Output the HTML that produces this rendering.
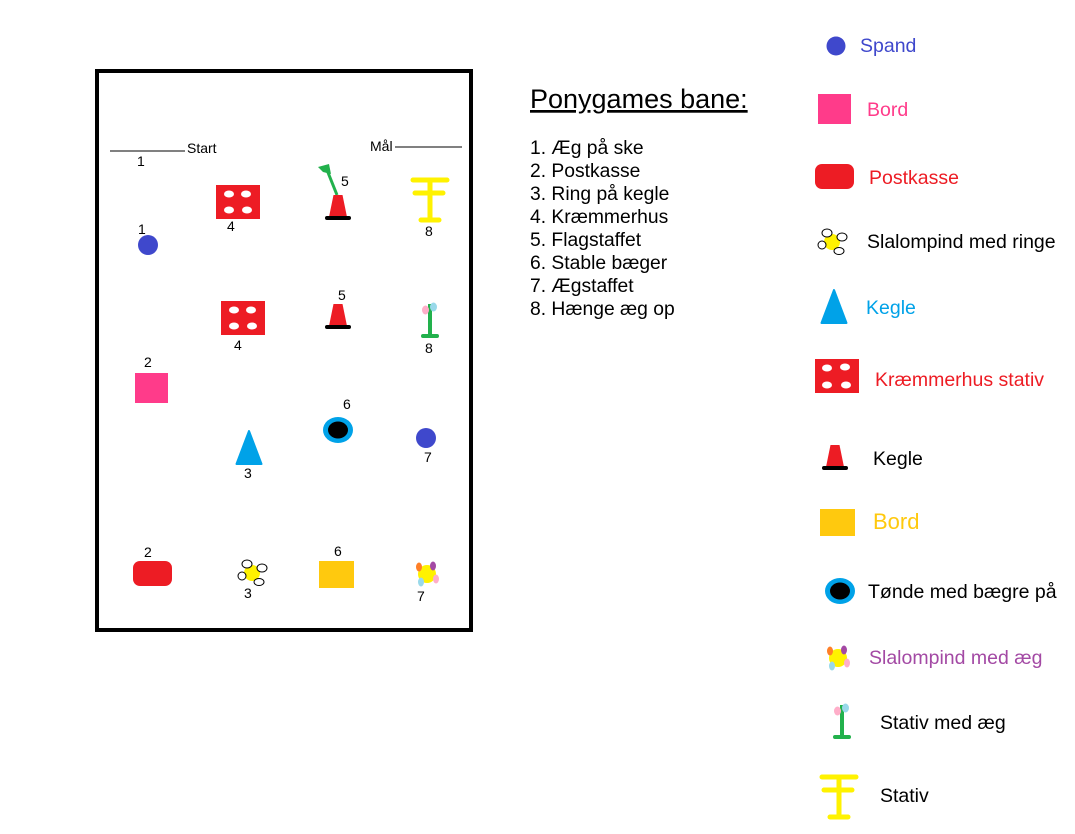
<!DOCTYPE html>
<html><head><meta charset="utf-8"><style>
html,body{margin:0;padding:0;background:#fff;}
svg{display:block;font-family:"Liberation Sans",Arial,sans-serif;}
</style></head><body>
<svg width="1075" height="834" viewBox="0 0 1075 834" xmlns="http://www.w3.org/2000/svg">
<defs>
<g id="spand"><circle r="10" fill="#3f48cc"/></g>
<g id="pink"><rect x="-16.5" y="-15" width="33" height="30" fill="#ff3b8a"/></g>
<g id="post"><rect x="-19.5" y="-12.5" width="39" height="25" rx="7" fill="#ed1c24"/></g>
<g id="ringe"><circle r="8" fill="#fff200"/>
<ellipse cx="-5" cy="-9" rx="5" ry="4" fill="#fff" stroke="#000" stroke-width="1"/>
<ellipse cx="10" cy="-5" rx="5" ry="4" fill="#fff" stroke="#000" stroke-width="1"/>
<ellipse cx="-10" cy="3" rx="4" ry="4" fill="#fff" stroke="#000" stroke-width="1"/>
<ellipse cx="7" cy="9" rx="5" ry="3.5" fill="#fff" stroke="#000" stroke-width="1"/></g>
<g id="bluecone"><polygon points="0,0 12.5,33 -12.5,33" fill="#00a2e8" stroke="#00a2e8" stroke-width="2" stroke-linejoin="round"/></g>
<g id="krm"><rect x="-22" y="-17" width="44" height="34" fill="#ed1c24"/>
<ellipse cx="-9" cy="-8" rx="5" ry="3.5" fill="#fff"/><ellipse cx="8" cy="-8" rx="5" ry="3.5" fill="#fff"/>
<ellipse cx="-9" cy="8" rx="5" ry="3.5" fill="#fff"/><ellipse cx="9" cy="8" rx="5" ry="3.5" fill="#fff"/></g>
<g id="redcone"><polygon points="-4.5,-12 4.5,-12 9,10 -9,10" fill="#ed1c24"/><line x1="-11" y1="11" x2="11" y2="11" stroke="#000" stroke-width="4" stroke-linecap="round"/></g>
<g id="ybord"><rect x="-17.5" y="-13.5" width="35" height="27" fill="#ffc90e"/></g>
<g id="tonde"><ellipse rx="15" ry="13" fill="#00a2e8"/><ellipse rx="10" ry="8.5" fill="#000"/></g>
<g id="aeg"><circle cx="2" cy="1" r="9" fill="#fff200"/>
<ellipse cx="-6" cy="-6" rx="3" ry="4.5" fill="#ff7f27"/><ellipse cx="8" cy="-7" rx="3" ry="4.5" fill="#a349a4"/>
<ellipse cx="-4" cy="9" rx="3" ry="4.5" fill="#99d9ea"/><ellipse cx="11" cy="6" rx="3" ry="4.5" fill="#ffaec9"/></g>
<g id="stavaeg"><line x1="0" y1="-16" x2="0" y2="16" stroke="#22b14c" stroke-width="4"/>
<line x1="-7" y1="16" x2="7" y2="16" stroke="#22b14c" stroke-width="4" stroke-linecap="round"/>
<ellipse cx="-4.5" cy="-10" rx="3.5" ry="4.5" fill="#ffaec9"/><ellipse cx="3.5" cy="-13" rx="3.5" ry="4.5" fill="#99d9ea"/></g>
<g id="stativ" stroke="#fff200" stroke-width="5" stroke-linecap="round"><line x1="-17" y1="-20" x2="17" y2="-20"/>
<line x1="-15" y1="-7" x2="13" y2="-7"/><line x1="0" y1="-20" x2="0" y2="20"/><line x1="-9" y1="20" x2="9" y2="20"/></g>
</defs>

<rect x="97" y="71" width="374" height="559" fill="none" stroke="#000" stroke-width="4"/>
<g font-size="14" fill="#000">
<line x1="110" y1="151" x2="185" y2="151" stroke="#000" stroke-width="1"/>
<text x="187" y="153">Start</text>
<text x="370" y="151">Mål</text>
<line x1="395" y1="147" x2="462" y2="147" stroke="#000" stroke-width="1"/>
<text x="137" y="166">1</text>
<text x="138" y="234">1</text>
<text x="227" y="231">4</text>
<text x="341" y="186">5</text>
<text x="425" y="236">8</text>
<text x="234" y="350">4</text>
<text x="338" y="300">5</text>
<text x="425" y="353">8</text>
<text x="144" y="367">2</text>
<text x="343" y="409">6</text>
<text x="244" y="478">3</text>
<text x="424" y="462">7</text>
<text x="144" y="557">2</text>
<text x="334" y="556">6</text>
<text x="244" y="598">3</text>
<text x="417" y="601">7</text>
</g>
<use href="#spand" x="148" y="245"/>
<use href="#krm" x="238" y="202"/>
<line x1="337" y1="195" x2="327" y2="170" stroke="#22b14c" stroke-width="3"/>
<polygon points="318,167 329,164 331,174 323,172" fill="#22b14c"/>
<use href="#redcone" x="338" y="207"/>
<use href="#stativ" x="430" y="200"/>
<use href="#krm" x="243" y="318"/>
<use href="#redcone" x="338" y="316"/>
<use href="#stavaeg" x="430" y="320"/>
<use href="#pink" x="151.5" y="388"/>
<use href="#tonde" x="338" y="430"/>
<use href="#spand" x="426" y="438"/>
<use href="#bluecone" x="249" y="431"/>
<use href="#post" x="152.5" y="573.5"/>
<use href="#ringe" x="252" y="573"/>
<use href="#ybord" x="336.5" y="574.5"/>
<use href="#aeg" x="425" y="573"/>

<text x="530" y="108" font-size="27" text-decoration="underline">Ponygames bane:</text>
<g font-size="19.3" fill="#000">
<text x="530" y="154">1. Æg på ske</text>
<text x="530" y="177">2. Postkasse</text>
<text x="530" y="200">3. Ring på kegle</text>
<text x="530" y="223">4. Kræmmerhus</text>
<text x="530" y="246">5. Flagstaffet</text>
<text x="530" y="269">6. Stable bæger</text>
<text x="530" y="292">7. Ægstaffet</text>
<text x="530" y="315">8. Hænge æg op</text>
</g>

<circle cx="836" cy="46" r="9.5" fill="#3f48cc"/>
<use href="#pink" x="834.5" y="109"/>
<use href="#post" x="834.5" y="176.5"/>
<use href="#ringe" x="832" y="242"/>
<use href="#bluecone" x="834" y="290"/>
<rect x="815" y="359" width="44" height="34" fill="#ed1c24"/>
<ellipse cx="827" cy="368" rx="5" ry="3.5" fill="#fff"/><ellipse cx="845" cy="367" rx="5" ry="3.5" fill="#fff"/>
<ellipse cx="827" cy="385" rx="5" ry="3.5" fill="#fff"/><ellipse cx="846" cy="385" rx="5" ry="3.5" fill="#fff"/>
<use href="#redcone" x="835" y="457"/>
<use href="#ybord" x="837.5" y="522.5"/>
<use href="#tonde" x="840" y="591"/>
<use href="#aeg" x="836" y="657"/>
<use href="#stavaeg" x="842" y="721"/>
<use href="#stativ" x="839" y="797"/>
<g font-size="19.5">
<text x="860" y="52" fill="#3f48cc">Spand</text>
<text x="867" y="116" fill="#ff3b8a">Bord</text>
<text x="869" y="184" fill="#ed1c24">Postkasse</text>
<text x="867" y="248" fill="#000">Slalompind med ringe</text>
<text x="866" y="314" fill="#00a2e8">Kegle</text>
<text x="875" y="386" fill="#ed1c24">Kræmmerhus stativ</text>
<text x="873" y="465" fill="#000">Kegle</text>
<text x="873" y="529" fill="#ffc90e" font-size="22">Bord</text>
<text x="868" y="598" fill="#000">Tønde med bægre på</text>
<text x="869" y="664" fill="#a349a4">Slalompind med æg</text>
<text x="880" y="729" fill="#000">Stativ med æg</text>
<text x="880" y="802" fill="#000">Stativ</text>
</g>
</svg>
</body></html>
